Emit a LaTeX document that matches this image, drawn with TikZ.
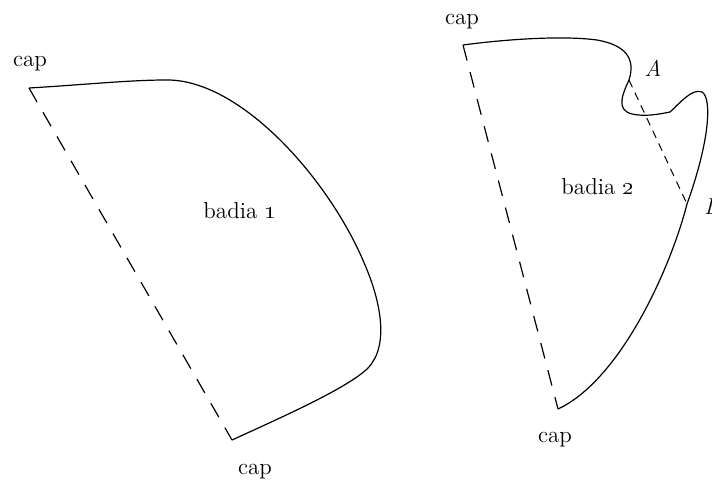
\documentclass[tikz,border=0pt]{standalone}
\begin{document}
\begin{tikzpicture}[x=0.5pt,y=-0.5pt,
  edge/.style={line width=0.6pt},
  cut/.style={line width=0.6pt,dash pattern=on 8pt off 6pt},
  chord/.style={line width=0.5pt,dash pattern=on 4pt off 3pt},
  lbl/.style={font=\fontsize{11.5}{13}\selectfont, inner sep=0pt}]
\useasboundingbox (0,0) rectangle (712,489);
% region 1
\coordinate (p1) at (29,88);
\coordinate (q1) at (232,440);
\draw[edge] (p1) .. controls (80,85) and (130,80) .. (165,80)
  .. controls (240,78) and (330,180) .. (365,265)
  .. controls (380,300) and (390,345) .. (368,368)
  .. controls (348,388) and (280,418) .. (q1);
\draw[cut] (p1) -- (q1);
\node[lbl] (c1) at (30,64) {cap};
\node[lbl] (c2) at (255,472) {cap};
\node[lbl] (b1) at (240,211) {badia \oldstylenums{1}};
% region 2
\coordinate (p2) at (463,45);
\coordinate (q2) at (558,409);
\coordinate (A) at (629,80);
\coordinate (B) at (687,204);
\draw[edge] (p2) .. controls (500,40) and (560,35) .. (597,40)
  .. controls (625,45) and (636,58) .. (A)
  .. controls (622,95) and (616,110) .. (632,114)
  .. controls (645,117) and (660,114) .. (670,112)
  .. controls (680,103) and (692,88) .. (702,92)
  .. controls (712,98) and (710,140) .. (B)
  .. controls (670,270) and (620,380) .. (q2);
\draw[cut] (p2) -- (q2);
\draw[chord] (A) -- (B);
\node[lbl] (c3) at (462,22) {cap};
\node[lbl] (c4) at (555,440) {cap};
\node[lbl] (b2) at (598,187) {badia \oldstylenums{2}};
\node[lbl,font=\fontsize{11.5}{13}\selectfont\itshape] (la) at (653,68) {A};
\node[lbl,font=\fontsize{11.5}{13}\selectfont\itshape] (lb) at (712,207) {B};
\end{tikzpicture}
\end{document}
